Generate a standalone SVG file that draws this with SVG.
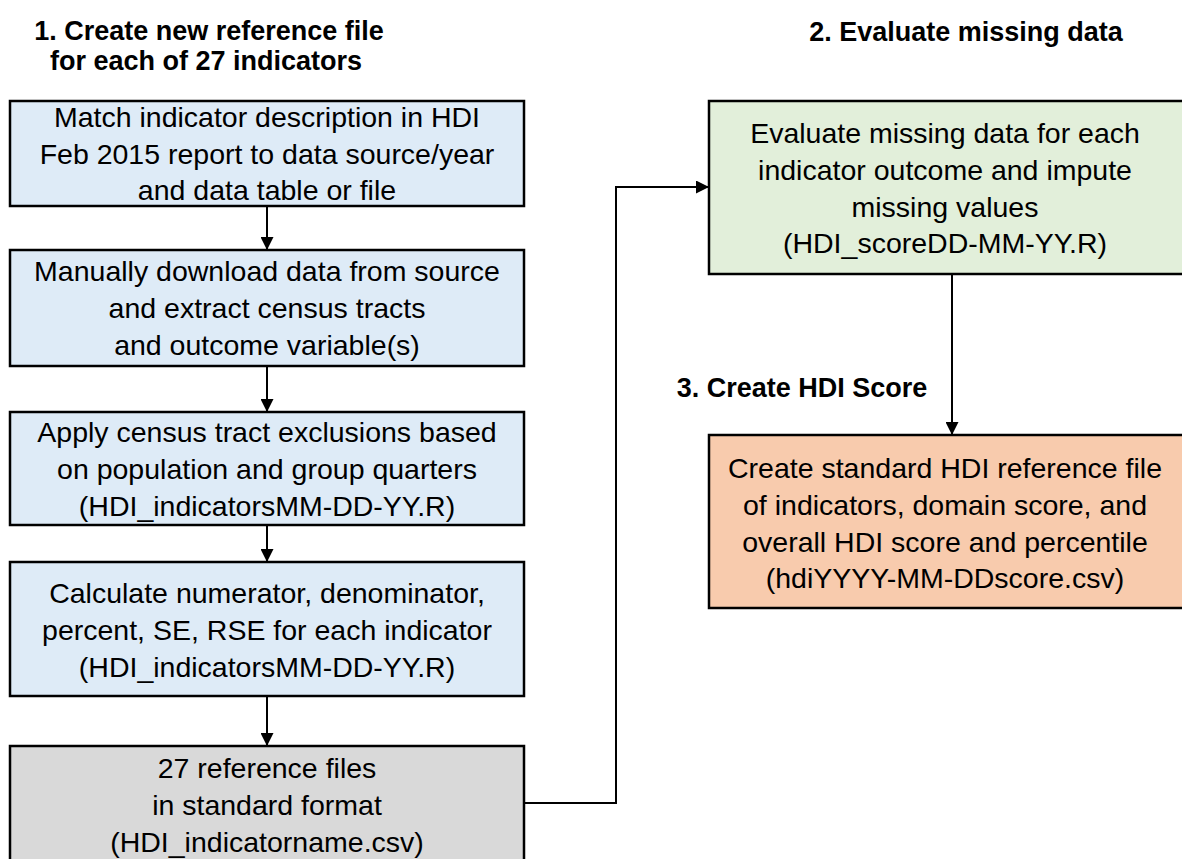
<svg xmlns="http://www.w3.org/2000/svg" width="1182" height="859" viewBox="0 0 1182 859">
<defs>
<style>
.box{stroke:#000;stroke-width:2.5}
.blue{fill:#DEEBF7}
.green{fill:#E2EFDA}
.orange{fill:#F8CBAD}
.gray{fill:#D9D9D9}
.t{font-family:"Liberation Sans",Arial,sans-serif;font-size:28.5px;fill:#000;text-anchor:middle}
.h{font-family:"Liberation Sans",Arial,sans-serif;font-size:27px;font-weight:bold;fill:#000;text-anchor:middle}
.c{fill:none;stroke:#000;stroke-width:2}
</style>
<marker id="arr" markerWidth="13" markerHeight="13" refX="13" refY="6.5" orient="auto" markerUnits="userSpaceOnUse">
<path d="M0,0 L13,6.5 L0,13 Z" fill="#000"/>
</marker>
</defs>
<rect width="1182" height="859" fill="#fff"/>

<g id="heading1">
<text class="h" x="209" y="40">1. Create new reference file</text>
<text class="h" x="206" y="70">for each of 27 indicators</text>
</g>
<g id="heading2"><text class="h" x="966" y="41">2. Evaluate missing data</text></g>
<g id="heading3"><text class="h" x="802" y="397">3. Create HDI Score</text></g>

<g id="connectors">
<line class="c" x1="267" y1="207" x2="267" y2="250" marker-end="url(#arr)"/>
<line class="c" x1="267" y1="367" x2="267" y2="412" marker-end="url(#arr)"/>
<line class="c" x1="267" y1="526" x2="267" y2="562" marker-end="url(#arr)"/>
<line class="c" x1="267" y1="697" x2="267" y2="746" marker-end="url(#arr)"/>
<polyline class="c" points="524,803 616,803 616,187 709,187" marker-end="url(#arr)"/>
<line class="c" x1="952" y1="275" x2="952" y2="435" marker-end="url(#arr)"/>
</g>

<g id="node1">
<rect class="box blue" x="10" y="101" width="514" height="105"/>
<text class="t" x="267" y="127">Match indicator description in HDI</text>
<text class="t" x="267" y="164">Feb 2015 report to data source/year</text>
<text class="t" x="267" y="200">and data table or file</text>
</g>
<g id="node2">
<rect class="box blue" x="10" y="250" width="514" height="116"/>
<text class="t" x="267" y="281">Manually download data from source</text>
<text class="t" x="267" y="318">and extract census tracts</text>
<text class="t" x="267" y="355">and outcome variable(s)</text>
</g>
<g id="node3">
<rect class="box blue" x="10" y="412" width="514" height="113"/>
<text class="t" x="267" y="442">Apply census tract exclusions based</text>
<text class="t" x="267" y="479">on population and group quarters</text>
<text class="t" x="267" y="516">(HDI_indicatorsMM-DD-YY.R)</text>
</g>
<g id="node4">
<rect class="box blue" x="10" y="562" width="514" height="134"/>
<text class="t" x="267" y="603">Calculate numerator, denominator,</text>
<text class="t" x="267" y="640">percent, SE, RSE for each indicator</text>
<text class="t" x="267" y="677">(HDI_indicatorsMM-DD-YY.R)</text>
</g>
<g id="node5">
<rect class="box gray" x="10" y="746" width="514" height="125"/>
<text class="t" x="267" y="778">27 reference files</text>
<text class="t" x="267" y="815">in standard format</text>
<text class="t" x="267" y="852">(HDI_indicatorname.csv)</text>
</g>
<g id="node6">
<rect class="box green" x="709" y="101" width="478" height="173"/>
<text class="t" x="945" y="143">Evaluate missing data for each</text>
<text class="t" x="945" y="180">indicator outcome and impute</text>
<text class="t" x="945" y="217">missing values</text>
<text class="t" x="945" y="253">(HDI_scoreDD-MM-YY.R)</text>
</g>
<g id="node7">
<rect class="box orange" x="709" y="435" width="478" height="173"/>
<text class="t" x="945" y="478">Create standard HDI reference file</text>
<text class="t" x="945" y="515">of indicators, domain score, and</text>
<text class="t" x="945" y="552">overall HDI score and percentile</text>
<text class="t" x="945" y="588">(hdiYYYY-MM-DDscore.csv)</text>
</g>
</svg>
